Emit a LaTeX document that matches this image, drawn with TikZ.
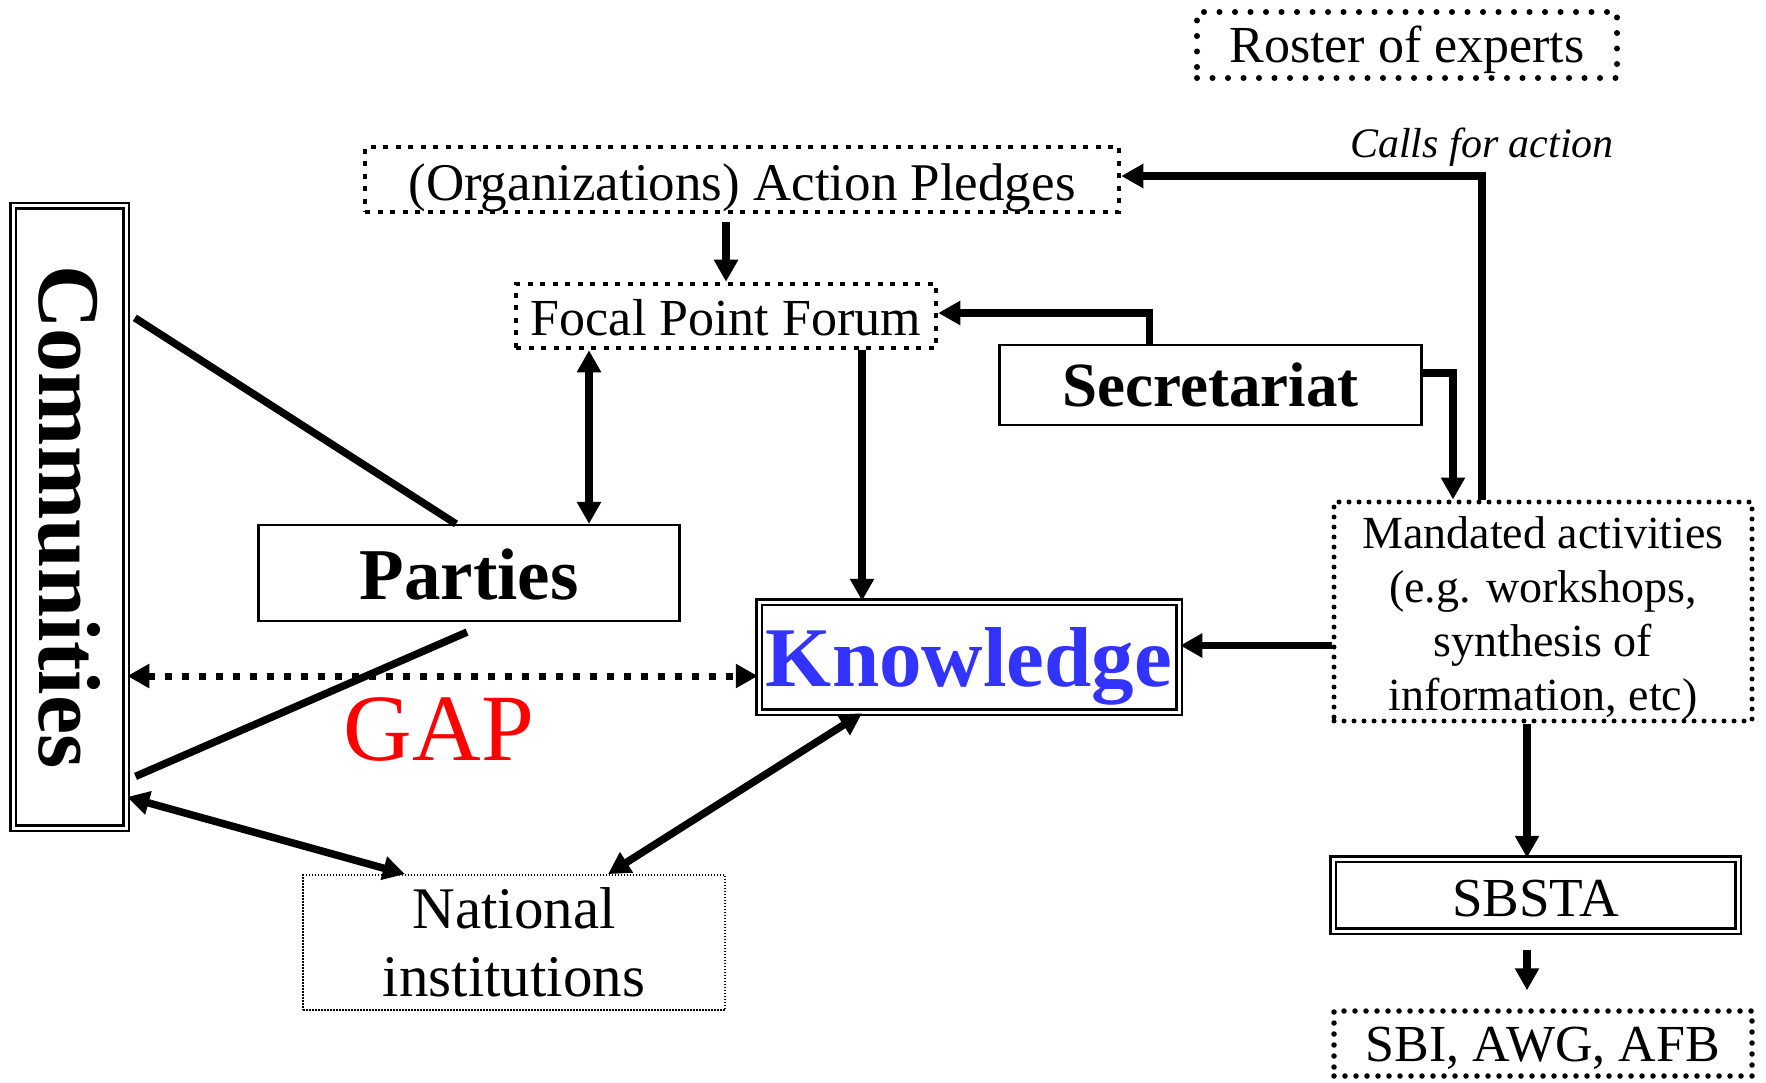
\documentclass[tikz,border=0pt]{standalone}
\usepackage{fontspec}
\setmainfont{Liberation Serif}
\usetikzlibrary{arrows.meta,calc}
\definecolor{kblue}{RGB}{51,51,255}
\definecolor{gapred}{RGB}{255,0,0}
\newcommand{\fs}[1]{\fontsize{#1}{#1}\selectfont}
\newcommand{\txtdown}[2]{\raisebox{-#1}[\height][\depth]{#2}}
\tikzset{
 box/.style={draw, line width=2.2pt, inner sep=0pt, align=center},
 dbox/.style={draw, double, line width=2.5pt, double distance=3pt, inner sep=0pt, align=center},
 sqdash/.style={draw, line width=4.5pt, dash pattern=on 5pt off 7.5pt, inner sep=0pt, align=center},
 rdots/.style={draw, line width=5.5pt, line cap=round, dash pattern=on 0pt off 11pt, inner sep=0pt, align=center},
 fdots/.style={draw, line width=1.8pt, dash pattern=on 1.5pt off 1.5pt, inner sep=0pt, align=center},
 tip/.tip={Triangle[length=22pt,width=23pt]},
 arr/.style={line width=7.5pt, -tip},
 darr/.style={line width=7.5pt, tip-tip},
 dotarr/.style={line width=7pt, dash pattern=on 7pt off 10pt, tip-tip},
 ln/.style={line width=7.5pt},
}
\begin{document}
\begin{tikzpicture}[x=1pt,y=-1pt]
\useasboundingbox (0,0) rectangle (1766,1083);
% nodes
\node[rdots, line width=6pt, dash pattern=on 0pt off 15.5pt, minimum width=420pt, minimum height=66pt, font=\fs{52}] (roster) at (1407,45) {\txtdown{5pt}{Roster of experts}};
\node[sqdash, minimum width=754pt, minimum height=65pt, font=\fs{53}] (ap) at (742,179.5) {\txtdown{8pt}{(Organizations) Action Pledges}};
\node[sqdash, minimum width=420pt, minimum height=64pt, font=\fs{52}] (fpf) at (726,316) {\txtdown{2pt}{Focal Point Forum}};
\node[box, minimum width=422pt, minimum height=80pt, font=\bfseries\fs{63}] (sec) at (1210.5,385) {Secretariat};
\node[box, minimum width=421pt, minimum height=96pt, font=\bfseries\fs{73}] (parties) at (469,573) {\txtdown{2pt}{Parties}};
\node[dbox, minimum width=420pt, minimum height=110pt, font=\bfseries\fs{85}, text=kblue] (know) at (969,657) {\txtdown{9pt}{Knowledge}};
\node[rdots, line width=5pt, dash pattern=on 0pt off 10pt, minimum width=418pt, minimum height=219pt, font=\fontsize{46}{54}\selectfont] (mand) at (1543,611.5) {\txtdown{7pt}{\begin{tabular}{@{}c@{}}Mandated activities\\(e.g. workshops,\\synthesis of\\information, etc)\end{tabular}}};
\node[dbox, minimum width=405pt, minimum height=72pt, font=\fs{55}] (sbsta) at (1535.5,895) {\txtdown{4pt}{SBSTA}};
\node[rdots, minimum width=418pt, minimum height=65pt, font=\fs{52}] (sbi) at (1543,1043.5) {\txtdown{5pt}{SBI, AWG, AFB}};
\node[fdots, minimum width=422pt, minimum height=135pt, font=\fontsize{59}{68}\selectfont] (nat) at (514,942.5) {National\\institutions};
\node[dbox, minimum width=113pt, minimum height=622pt] (comm) at (69.5,517) {};
\node[rotate=-90, inner sep=0pt, font=\bfseries\fs{88}] (commtext) at (comm.center) {Communities};
\node[text=gapred, inner sep=0pt, font=\fs{95}] (gap) at (439,730) {GAP};
% connectors
\draw[arr, shorten <=8pt] (fpf.north |- ap.south) -- (fpf.north);
\draw[arr] ([xshift=-61pt]sec.north) |- ([yshift=3pt]fpf.east);
\coordinate (f1) at ([xshift=-137pt]fpf.south);
\draw[darr] (f1) -- (f1 |- parties.north);
\coordinate (f2) at ([xshift=136pt]fpf.south);
\draw[arr] (f2) -- (f2 |- know.north);
\draw[arr] ([yshift=12pt]sec.east) -| ([xshift=-90pt]mand.north);
\draw[arr] ([xshift=-61pt]mand.north) |- ([yshift=3.5pt]ap.east)
  node[pos=0.5, above=6pt, inner sep=0pt, font=\itshape\fs{42}] (calls) {Calls for action};
\coordinate (m1) at ([yshift=-34pt]mand.west);
\draw[arr] (m1) -- (m1 -| know.east);
\coordinate (m2) at ([xshift=-16pt]mand.south);
\draw[arr] (m2) -- (m2 |- sbsta.north);
\coordinate (s1) at ([xshift=-8.5pt]sbsta.south);
\draw[arr, shorten <=18pt, shorten >=18pt] (s1) -- (s1 |- sbi.north);
\draw[ln, shorten <=9pt] ([yshift=204pt]comm.east) -- ([xshift=-13pt]parties.north);
\draw[ln, shorten >=9pt] ([yshift=-10pt,xshift=-2pt]parties.south) -- ([yshift=-263pt]comm.east);
\coordinate (g1) at ([yshift=-19pt]know.west);
\draw[dotarr] (comm.east |- g1) -- (g1);
\draw[darr] ([yshift=-280pt]comm.east) -- ([xshift=-109pt]nat.north);
\draw[darr] ([xshift=-107pt]know.south) -- ([xshift=94pt]nat.north);
\end{tikzpicture}
\end{document}
